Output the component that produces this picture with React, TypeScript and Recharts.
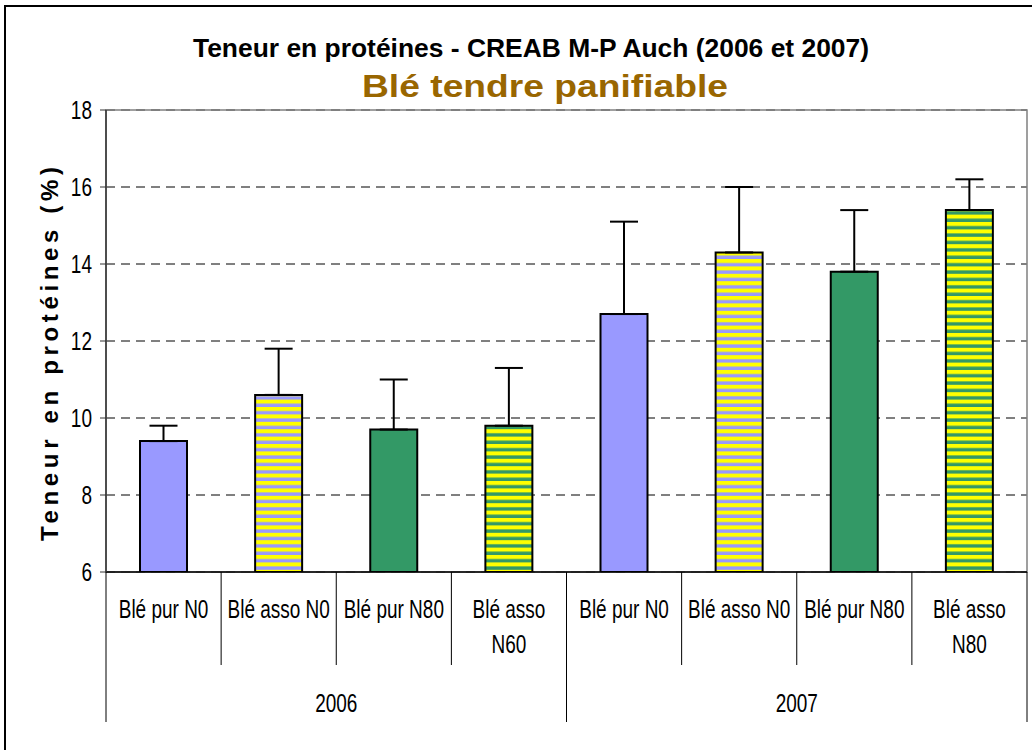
import React from "react";
import {
  BarChart,
  Bar,
  XAxis,
  YAxis,
  CartesianGrid,
  ErrorBar,
  Cell,
  ReferenceArea,
} from "recharts";

const categories = [
  "Blé pur N0",
  "Blé asso N0",
  "Blé pur N80",
  "Blé asso N60",
  "Blé pur N0",
  "Blé asso N0",
  "Blé pur N80",
  "Blé asso N80",
];
const years = ["2006", "2006", "2006", "2006", "2007", "2007", "2007", "2007"];
const proteinValues = [9.4, 10.6, 9.7, 9.8, 12.7, 14.3, 13.8, 15.4];
const errorValues = [0.4, 1.2, 1.3, 1.5, 2.4, 1.7, 1.6, 0.8];
const fillKeys = [
  "solidBlue",
  "stripeBlue",
  "solidGreen",
  "stripeGreen",
  "solidBlue",
  "stripeBlue",
  "solidGreen",
  "stripeGreen",
];
const yTicks = [6, 8, 10, 12, 14, 16, 18];

const BLUE = "#9999FF";
const GREEN = "#339966";
const YELLOW = "#FFFF00";
const FONT = "'Liberation Sans', Arial, sans-serif";
const SX = 0.76;

const data = categories.map((name, i) => ({
  id: i,
  name,
  year: years[i],
  value: proteinValues[i],
  err: [0, errorValues[i]],
  fillKey: fillKeys[i],
}));

const fillFor = (k: string) => {
  if (k === "solidBlue") return BLUE;
  if (k === "solidGreen") return GREEN;
  return `url(#${k})`;
};

const wrapLabel = (s: string): string[] => {
  if (s.length <= 11) return [s];
  const idx = s.lastIndexOf(" ");
  return [s.slice(0, idx), s.slice(idx + 1)];
};

const CategoryTick = (props: any) => {
  const { x, y, payload, index } = props;
  const off = payload.offset || 0;
  const lines = wrapLabel(categories[index] ?? String(payload.value));
  const isLast = index === categories.length - 1;
  return (
    <g>
      <line x1={x - off} x2={x - off} y1={y} y2={y + 93} stroke="#000" strokeWidth={1} />
      {isLast && (
        <line x1={x + off} x2={x + off} y1={y} y2={y + 93} stroke="#000" strokeWidth={1} />
      )}
      {lines.map((ln, i) => (
        <text
          key={i}
          transform={`translate(${x},${y + 46 + i * 35}) scale(${SX},1)`}
          textAnchor="middle"
          fontFamily={FONT}
          fontSize={25}
          fill="#000"
        >
          {ln}
        </text>
      ))}
    </g>
  );
};

const YearTick = (props: any) => {
  const { x, y, payload } = props;
  const off = payload.offset || 0;
  return (
    <g>
      <line x1={x - off} x2={x - off} y1={y} y2={y + 57} stroke="#000" strokeWidth={1} />
      <line x1={x + off} x2={x + off} y1={y} y2={y + 57} stroke="#000" strokeWidth={1} />
      <text
        transform={`translate(${x},${y + 47}) scale(${SX},1)`}
        textAnchor="middle"
        fontFamily={FONT}
        fontSize={25}
        fill="#000"
      >
        {payload.value}
      </text>
    </g>
  );
};

const YTick = (props: any) => {
  const { x, y, payload } = props;
  return (
    <text
      transform={`translate(${x},${y}) scale(${SX},1)`}
      textAnchor="end"
      dy="0.34em"
      fontFamily={FONT}
      fontSize={25}
      fill="#000"
    >
      {payload.value}
    </text>
  );
};

export default function App() {
  return (
    <div
      style={{
        position: "absolute",
        left: 0,
        top: 0,
        width: 1032,
        height: 750,
        overflow: "hidden",
        background: "#fff",
      }}
    >
      <BarChart
        width={1032}
        height={750}
        data={data}
        margin={{ top: 110, right: 5, bottom: 28, left: 0 }}
      >
        <defs>
          <pattern id="stripeBlue" x={0} y={0} width={10} height={7.4} patternUnits="userSpaceOnUse">
            <rect x={0} y={0} width={10} height={7.4} fill={BLUE} />
            <rect x={0} y={0} width={10} height={4} fill={YELLOW} />
          </pattern>
          <pattern id="stripeGreen" x={0} y={0} width={10} height={7.4} patternUnits="userSpaceOnUse">
            <rect x={0} y={0} width={10} height={7.4} fill={GREEN} />
            <rect x={0} y={0} width={10} height={4} fill={YELLOW} />
          </pattern>
        </defs>
        <CartesianGrid
          xAxisId="cat"
          vertical={false}
          stroke="#000"
          strokeDasharray="9 6"
        />
        <ReferenceArea
          xAxisId="cat"
          y1={6}
          y2={18}
          fill="none"
          stroke="#808080"
          strokeWidth={1.5}
          ifOverflow="visible"
        />
        <XAxis
          xAxisId="cat"
          dataKey="name"
          height={93}
          tickLine={false}
          tickSize={0}
          tickMargin={0}
          axisLine={{ stroke: "#000", strokeWidth: 1.5 }}
          tick={<CategoryTick />}
          interval={0}
        />
        <XAxis
          xAxisId="year"
          dataKey="year"
          allowDuplicatedCategory={false}
          height={57}
          tickLine={false}
          tickSize={0}
          tickMargin={0}
          axisLine={false}
          tick={<YearTick />}
          interval={0}
        />
        <YAxis
          width={106}
          type="number"
          domain={[6, 18]}
          ticks={yTicks}
          interval={0}
          allowDataOverflow
          tickSize={6}
          tickMargin={8}
          axisLine={{ stroke: "#333", strokeWidth: 1.5 }}
          tickLine={{ stroke: "#333" }}
          tick={<YTick />}
        />
        <Bar
          xAxisId="cat"
          dataKey="value"
          barSize={47}
          stroke="#000"
          strokeWidth={2}
          isAnimationActive={false}
        >
          {data.map((d) => (
            <Cell key={d.id} fill={fillFor(d.fillKey)} />
          ))}
          <ErrorBar
            dataKey="err"
            direction="y"
            width={14}
            stroke="#000"
            strokeWidth={2}
            isAnimationActive={false}
          />
        </Bar>
      </BarChart>
      <svg
        width={1032}
        height={750}
        style={{ position: "absolute", left: 0, top: 0, pointerEvents: "none" }}
      >
        <line x1={5} y1={5} x2={5} y2={760} stroke="#000" strokeWidth={2} />
        <line x1={4} y1={6} x2={1040} y2={6} stroke="#000" strokeWidth={2} />
        <text
          x={531}
          y={57}
          textAnchor="middle"
          fontFamily={FONT}
          fontWeight="bold"
          fontSize={26}
          textLength={676}
          lengthAdjust="spacingAndGlyphs"
          fill="#000"
        >
          Teneur en protéines - CREAB M-P Auch (2006 et 2007)
        </text>
        <text
          x={545}
          y={97}
          textAnchor="middle"
          fontFamily={FONT}
          fontWeight="bold"
          fontSize={31}
          textLength={366}
          lengthAdjust="spacingAndGlyphs"
          fill="#996600"
        >
          Blé tendre panifiable
        </text>
        <text
          transform="translate(58,354) rotate(-90)"
          textAnchor="middle"
          fontFamily={FONT}
          fontWeight="bold"
          fontSize={24}
          textLength={374}
          lengthAdjust="spacing"
          fill="#000"
        >
          Teneur en protéines (%)
        </text>
      </svg>
    </div>
  );
}
